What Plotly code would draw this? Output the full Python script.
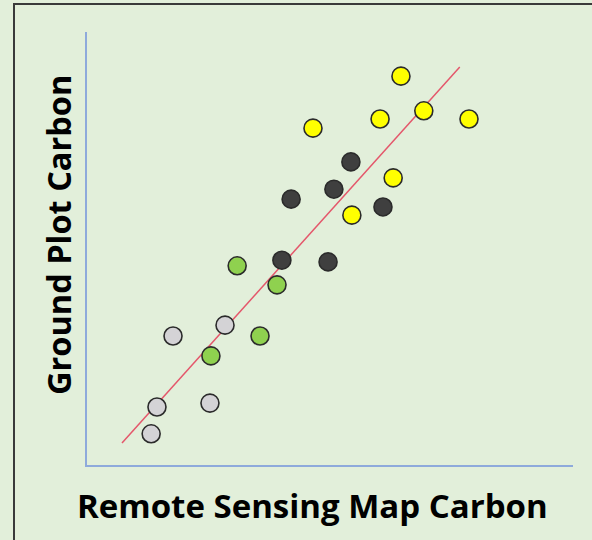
import plotly.graph_objects as go

# Data (remote sensing map carbon vs ground plot carbon, arbitrary units 0-100)
gray_x = [13.2, 14.4, 25.3, 17.7, 28.4]
gray_y = [7.2, 13.4, 14.3, 29.8, 32.3]
green_x = [25.5, 35.6, 39.1, 30.9]
green_y = [25.2, 29.8, 41.6, 46.0]
dark_x = [40.1, 49.6, 42.0, 50.8, 54.3, 60.9]
dark_y = [47.3, 46.9, 61.4, 63.7, 70.0, 59.6]
yellow_x = [54.5, 63.0, 46.5, 60.3, 69.3, 64.6, 78.6]
yellow_y = [57.7, 66.3, 77.8, 79.9, 81.8, 89.8, 79.9]
fit_x = [7.2, 76.7]
fit_y = [5.1, 91.9]

x_title = "Remote Sensing Map Carbon"
y_title = "Ground Plot Carbon"

BG = "#e2efda"
OUTLINE = "#2b2b2b"

fig = go.Figure()

fig.add_trace(go.Scatter(x=fit_x, y=fit_y, mode="lines",
                         line=dict(color="#e4576b", width=1.5),
                         hoverinfo="skip", showlegend=False))

for xs, ys, col in [(gray_x, gray_y, "#d4d3d6"),
                    (green_x, green_y, "#8fd14f"),
                    (dark_x, dark_y, "#3f3f3f"),
                    (yellow_x, yellow_y, "#ffff00")]:
    fig.add_trace(go.Scatter(x=xs, y=ys, mode="markers",
                             marker=dict(size=18, color=col,
                                         line=dict(color=OUTLINE, width=1.6)),
                             showlegend=False))

W, H = 592, 540
L, R, T, B = 87, 19, 32, 75
pw, ph = W - L - R, H - T - B

def px(x):
    return (x - L) / pw

def py(y):
    return (H - B - y) / ph

FONT_X = dict(family="Open Sans", size=33, color="#000000")
FONT_Y = dict(family="Open Sans", size=32.5, color="#000000")

fig.update_layout(
    width=W, height=H,
    margin=dict(l=L, r=R, t=T, b=B),
    paper_bgcolor=BG, plot_bgcolor=BG,
    xaxis=dict(range=[0, 100], showgrid=False, zeroline=False,
               showticklabels=False, ticks="", showline=True,
               linecolor="#8eaadb", linewidth=2, fixedrange=True),
    yaxis=dict(range=[0, 100], showgrid=False, zeroline=False,
               showticklabels=False, ticks="", showline=True,
               linecolor="#8eaadb", linewidth=2, fixedrange=True),
    shapes=[dict(type="rect", xref="paper", yref="paper",
                 x0=px(14), x1=px(620), y0=py(4), y1=py(580),
                 line=dict(color="#3a3a3a", width=2), layer="below")],
    annotations=[
        dict(text="<b>" + x_title + "</b>", xref="paper", yref="paper",
             x=px(312), y=py(505), xanchor="center", yanchor="middle",
             showarrow=False, font=FONT_X),
        dict(text="<b>" + y_title + "</b>", xref="paper", yref="paper",
             x=px(58), y=py(235), xanchor="center", yanchor="middle",
             textangle=-90, showarrow=False, font=FONT_Y),
    ],
)

fig.write_html(
    "out.html",
    config={"displayModeBar": False},
    post_script="document.body.style.margin='0';document.body.style.overflow='hidden';"
                "document.body.style.background='" + BG + "';",
)
